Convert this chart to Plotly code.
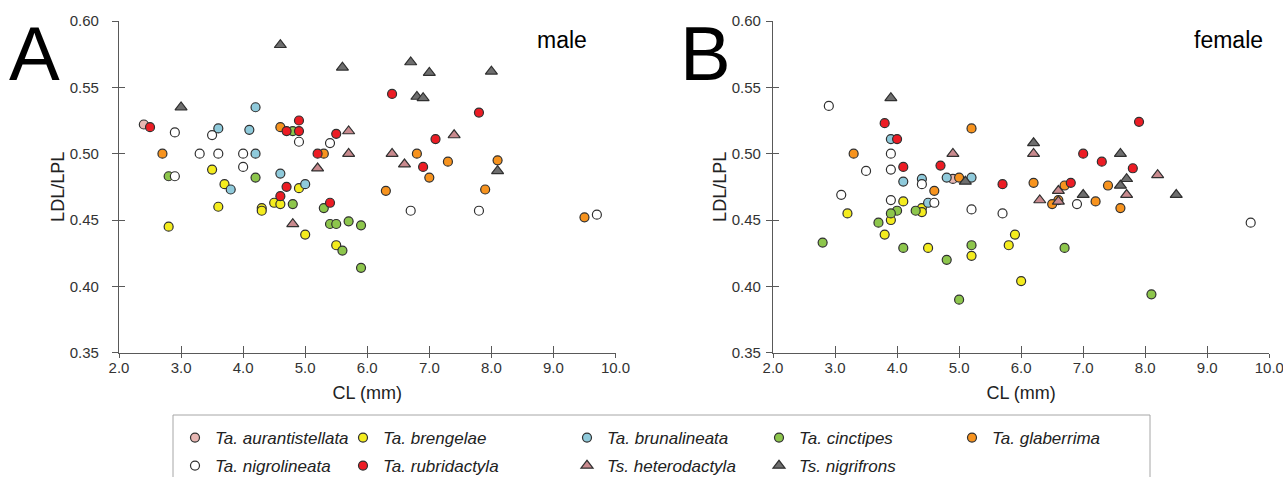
import plotly.graph_objects as go

W, H = 1283, 477

# ---------------- data (CL in mm, LDL/LPL ratio) ----------------
species = ["Ta. aurantistellata", "Ta. brengelae", "Ta. brunalineata", "Ta. cinctipes",
           "Ta. glaberrima", "Ta. nigrolineata", "Ta. rubridactyla", "Ts. heterodactyla",
           "Ts. nigrifrons"]

# male
aurantistellata_m_cl = [2.4]
aurantistellata_m_ratio = [0.522]
brengelae_m_cl = [3.5, 3.7, 4.9, 4.5, 4.6, 3.6, 4.3, 4.3, 2.8, 5.0, 5.5]
brengelae_m_ratio = [0.488, 0.477, 0.474, 0.463, 0.462, 0.460, 0.459, 0.457, 0.445, 0.439, 0.431]
brunalineata_m_cl = [3.6, 4.1, 4.2, 4.2, 4.6, 3.8, 5.0]
brunalineata_m_ratio = [0.519, 0.518, 0.535, 0.500, 0.485, 0.473, 0.477]
cinctipes_m_cl = [4.8, 2.8, 4.2, 4.8, 5.3, 5.7, 5.4, 5.5, 5.9, 5.6, 5.9]
cinctipes_m_ratio = [0.517, 0.483, 0.482, 0.462, 0.459, 0.449, 0.447, 0.447, 0.446, 0.427, 0.414]
glaberrima_m_cl = [4.6, 5.3, 2.7, 6.8, 7.3, 8.1, 7.0, 6.3, 7.9, 9.5]
glaberrima_m_ratio = [0.520, 0.500, 0.500, 0.500, 0.494, 0.495, 0.482, 0.472, 0.473, 0.452]
nigrolineata_m_cl = [2.9, 3.5, 4.9, 5.4, 3.3, 3.6, 4.0, 4.0, 2.9, 6.7, 7.8, 9.7]
nigrolineata_m_ratio = [0.516, 0.514, 0.509, 0.508, 0.500, 0.500, 0.500, 0.490, 0.483, 0.457, 0.457, 0.454]
rubridactyla_m_cl = [2.5, 4.7, 4.9, 4.9, 5.5, 5.2, 4.7, 4.6, 5.4, 6.4, 7.8, 7.1, 6.9]
rubridactyla_m_ratio = [0.520, 0.517, 0.525, 0.517, 0.515, 0.500, 0.475, 0.468, 0.463, 0.545, 0.531, 0.511, 0.490]
heterodactyla_m_cl = [5.7, 5.7, 5.2, 4.8, 7.4, 6.4, 6.6]
heterodactyla_m_ratio = [0.517, 0.500, 0.489, 0.447, 0.514, 0.500, 0.492]
nigrifrons_m_cl = [4.6, 5.6, 3.0, 6.7, 7.0, 8.0, 6.8, 6.9, 8.1]
nigrifrons_m_ratio = [0.582, 0.565, 0.535, 0.569, 0.561, 0.562, 0.543, 0.542, 0.487]

# female
aurantistellata_f_cl = [4.9]
aurantistellata_f_ratio = [0.481]
brengelae_f_cl = [4.1, 4.4, 4.4, 3.2, 3.9, 3.8, 4.5, 5.2, 5.9, 5.8, 6.0]
brengelae_f_ratio = [0.464, 0.459, 0.456, 0.455, 0.450, 0.439, 0.429, 0.423, 0.439, 0.431, 0.404]
brunalineata_f_cl = [3.9, 4.8, 5.2, 4.1, 4.4, 4.5]
brunalineata_f_ratio = [0.511, 0.482, 0.482, 0.479, 0.481, 0.463]
cinctipes_f_cl = [4.0, 3.9, 4.3, 3.7, 2.8, 4.1, 4.8, 5.2, 5.0, 6.7, 8.1]
cinctipes_f_ratio = [0.457, 0.455, 0.457, 0.448, 0.433, 0.429, 0.420, 0.431, 0.390, 0.429, 0.394]
glaberrima_f_cl = [5.2, 3.3, 5.0, 4.6, 6.2, 6.7, 7.4, 6.6, 6.5, 7.2, 7.6]
glaberrima_f_ratio = [0.519, 0.500, 0.482, 0.472, 0.478, 0.476, 0.476, 0.465, 0.462, 0.464, 0.459]
nigrolineata_f_cl = [2.9, 3.9, 3.5, 3.9, 4.4, 3.1, 3.9, 4.6, 5.2, 5.7, 6.9, 9.7]
nigrolineata_f_ratio = [0.536, 0.500, 0.487, 0.488, 0.477, 0.469, 0.465, 0.463, 0.458, 0.455, 0.462, 0.448]
rubridactyla_f_cl = [3.8, 4.0, 4.1, 4.7, 5.7, 7.9, 7.0, 7.3, 7.8, 6.8]
rubridactyla_f_ratio = [0.523, 0.511, 0.490, 0.491, 0.477, 0.524, 0.500, 0.494, 0.489, 0.478]
heterodactyla_f_cl = [4.9, 6.2, 8.2, 7.7, 6.6, 6.3, 6.6]
heterodactyla_f_ratio = [0.500, 0.500, 0.484, 0.469, 0.472, 0.465, 0.464]
nigrifrons_f_cl = [3.9, 5.1, 6.2, 7.6, 7.7, 7.6, 8.5, 7.0]
nigrifrons_f_ratio = [0.542, 0.479, 0.508, 0.500, 0.481, 0.476, 0.469, 0.469]

x_ticks = [2.0, 3.0, 4.0, 5.0, 6.0, 7.0, 8.0, 9.0, 10.0]
y_ticks = [0.35, 0.40, 0.45, 0.50, 0.55, 0.60]

male_data = [
    (aurantistellata_m_cl, aurantistellata_m_ratio), (brengelae_m_cl, brengelae_m_ratio),
    (brunalineata_m_cl, brunalineata_m_ratio), (cinctipes_m_cl, cinctipes_m_ratio),
    (glaberrima_m_cl, glaberrima_m_ratio), (nigrolineata_m_cl, nigrolineata_m_ratio),
    (rubridactyla_m_cl, rubridactyla_m_ratio), (heterodactyla_m_cl, heterodactyla_m_ratio),
    (nigrifrons_m_cl, nigrifrons_m_ratio)]
female_data = [
    (aurantistellata_f_cl, aurantistellata_f_ratio), (brengelae_f_cl, brengelae_f_ratio),
    (brunalineata_f_cl, brunalineata_f_ratio), (cinctipes_f_cl, cinctipes_f_ratio),
    (glaberrima_f_cl, glaberrima_f_ratio), (nigrolineata_f_cl, nigrolineata_f_ratio),
    (rubridactyla_f_cl, rubridactyla_f_ratio), (heterodactyla_f_cl, heterodactyla_f_ratio),
    (nigrifrons_f_cl, nigrifrons_f_ratio)]

# ---------------- styles ----------------
colors = ["#E8B7B3", "#F4EC1E", "#8FCADB", "#8DC64C", "#F7931E",
          "#FFFFFF", "#EC1C24", "#C98A8E", "#6E6E6E"]
symbols = ["circle"] * 7 + ["triangle-up"] * 2
sizes = [9] * 7 + [10.5] * 2
FONT = "Liberation Sans, Arial, sans-serif"
AX = "#595959"

# legend positions (pixel centres of marker)
leg_cols = [198, 366, 590, 782, 975, 198, 366, 590, 782]
leg_rows = [438, 438, 438, 438, 438, 466, 466, 466, 466]

fig = go.Figure()
for i, name in enumerate(species):
    lid = "legend" if i == 0 else f"legend{i + 1}"
    for panel, data in enumerate([male_data, female_data]):
        fig.add_trace(go.Scatter(
            x=data[i][0], y=data[i][1], mode="markers", name=name,
            xaxis="x" if panel == 0 else "x2", yaxis="y" if panel == 0 else "y2",
            marker=dict(symbol=symbols[i], size=sizes[i], color=colors[i],
                        line=dict(color="#303030", width=1.2)),
            showlegend=(panel == 0), legend=lid, legendgroup=name,
            hoverinfo="x+y+name"))

# empty traces for the overlay tick axes (crossing ticks)
for xa, ya in [("x3", "y"), ("x", "y3"), ("x4", "y2"), ("x2", "y4")]:
    fig.add_trace(go.Scatter(x=[], y=[], xaxis=xa, yaxis=ya, showlegend=False, hoverinfo="skip"))

ydom = [(H - 352.7) / H, (H - 21) / H]
xdomA = [119 / W, 615.5 / W]
xdomB = [773 / W, 1269.3 / W]

xcommon = dict(range=[2, 10], tickvals=x_ticks, tickformat=".1f", showgrid=False, zeroline=False,
               showline=True, linecolor=AX, linewidth=1.3, ticks="outside", ticklen=4,
               tickcolor=AX, tickwidth=1.3, ticklabelstandoff=-3, automargin=False,
               ticklabeloverflow="allow",
               tickfont=dict(family=FONT, size=15, color="#333333"),
               title=dict(text="CL (mm)", font=dict(family=FONT, size=18, color="#222222"), standoff=11))


def ycommon(label_standoff):
    return dict(range=[0.35, 0.60], tickvals=y_ticks, tickformat=".2f", showgrid=False, zeroline=False,
                showline=True, linecolor=AX, linewidth=1.3, ticks="outside", ticklen=6,
                tickcolor=AX, tickwidth=1.3, ticklabelstandoff=label_standoff, automargin=False,
                ticklabeloverflow="allow",
                tickfont=dict(family=FONT, size=15, color="#333333"),
                title=dict(text="LDL/LPL", font=dict(family=FONT, size=18, color="#222222"), standoff=0))


xov = dict(range=[2, 10], tickvals=x_ticks, showticklabels=False, showgrid=False, zeroline=False,
           showline=False, ticks="inside", ticklen=7, tickcolor=AX, tickwidth=1.3, automargin=False)
yov = dict(range=[0.35, 0.60], tickvals=y_ticks, showticklabels=False, showgrid=False, zeroline=False,
           showline=False, ticks="inside", ticklen=6, tickcolor=AX, tickwidth=1.3, automargin=False)

layout = dict(
    width=W, height=H, margin=dict(l=0, r=0, t=0, b=0, autoexpand=False),
    paper_bgcolor="white", plot_bgcolor="white",
    xaxis=dict(domain=xdomA, anchor="y", **xcommon),
    yaxis=dict(domain=ydom, anchor="x", **ycommon(10)),
    xaxis2=dict(domain=xdomB, anchor="y2", **xcommon),
    yaxis2=dict(domain=ydom, anchor="x2", **ycommon(2)),
    xaxis3=dict(overlaying="x", anchor="y", **xov),
    yaxis3=dict(overlaying="y", anchor="x", **yov),
    xaxis4=dict(overlaying="x2", anchor="y2", **xov),
    yaxis4=dict(overlaying="y2", anchor="x2", **yov),
    shapes=[dict(type="rect", xref="paper", yref="paper", x0=173 / W, x1=1150 / W,
                 y0=(H - 482) / H, y1=(H - 415) / H, line=dict(color="#A6A6A6", width=1),
                 fillcolor="rgba(0,0,0,0)", layer="below")],
    annotations=[
        dict(text="A", x=34 / W, y=1 - 53 / H, xref="paper", yref="paper", showarrow=False,
             font=dict(family=FONT, size=76, color="black"), xanchor="center", yanchor="middle"),
        dict(text="B", x=705 / W, y=1 - 53 / H, xref="paper", yref="paper", showarrow=False,
             font=dict(family=FONT, size=76, color="black"), xanchor="center", yanchor="middle"),
        dict(text="male", x=562 / W, y=1 - 40 / H, xref="paper", yref="paper", showarrow=False,
             font=dict(family=FONT, size=23, color="black"), xanchor="center", yanchor="middle"),
        dict(text="female", x=1228 / W, y=1 - 40 / H, xref="paper", yref="paper", showarrow=False,
             font=dict(family=FONT, size=23, color="black"), xanchor="center", yanchor="middle"),
    ],
    showlegend=True,
)
for i in range(len(species)):
    key = "legend" if i == 0 else f"legend{i + 1}"
    layout[key] = dict(x=(leg_cols[i] - 23) / W, y=1 - leg_rows[i] / H, xanchor="left",
                       yanchor="middle", bgcolor="rgba(0,0,0,0)", borderwidth=0,
                       font=dict(family=FONT, size=17, color="#222222", style="italic"),
                       itemwidth=30)
fig.update_layout(**layout)
fig.write_html("out.html")
